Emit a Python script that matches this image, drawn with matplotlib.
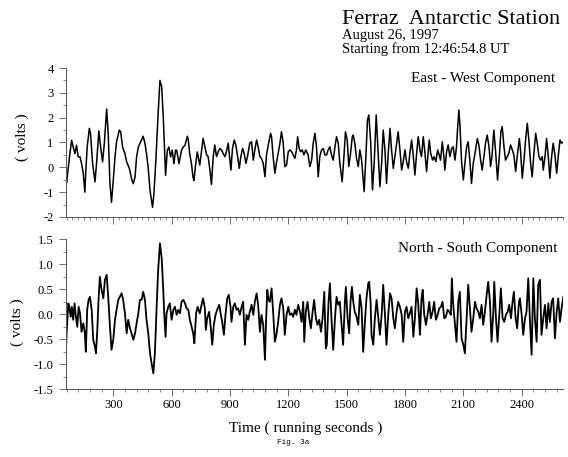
import matplotlib
matplotlib.use("Agg")
import matplotlib.pyplot as plt
from matplotlib.ticker import MultipleLocator, FormatStrFormatter

# East - West component (seconds, volts)
ew_time = [57, 60, 77, 86, 94, 103, 111, 120, 129, 137, 146, 154, 159, 166, 177, 183, 194, 206, 214, 226,
           235, 245, 254, 266, 274, 283, 291, 300, 309, 317, 331, 338, 348, 360, 369, 383, 394, 403, 412, 420,
           429, 441, 454, 463, 471, 480, 489, 502, 509, 519, 530, 540, 549, 557, 566, 569, 578, 586, 595, 603,
           612, 620, 626, 638, 651, 660, 669, 681, 686, 693, 702, 710, 715, 724, 732,
           745, 762, 771, 780, 788, 797, 805, 814, 822, 831, 840, 848, 857, 865, 874, 882, 891, 900, 905, 913,
           922, 930, 937, 948, 956, 965, 973, 982, 990, 1002, 1011, 1020, 1028, 1037, 1045, 1054, 1062, 1071,
           1080, 1088, 1097, 1109, 1114, 1122, 1131, 1140, 1148, 1157, 1165, 1174, 1182, 1191, 1200, 1208, 1217,
           1225, 1234, 1242, 1248, 1256, 1263, 1272, 1280, 1290, 1302, 1311, 1320, 1328, 1337, 1345, 1354, 1362,
           1371, 1380, 1388, 1397, 1405, 1414, 1422, 1431, 1440, 1448, 1457, 1465, 1477, 1486, 1494, 1503, 1511,
           1520, 1529, 1534, 1542, 1551, 1560, 1568, 1577, 1585, 1590, 1599, 1607, 1614, 1623, 1633, 1642, 1652,
           1663, 1671, 1680, 1688, 1697, 1705, 1714, 1723, 1731, 1740, 1748, 1757, 1765, 1774, 1783, 1791, 1800,
           1808, 1817, 1825, 1834, 1843, 1851, 1860, 1868, 1877, 1885, 1894, 1902, 1911, 1920, 1925, 1932, 1942,
           1950, 1959, 1968, 1976, 1983, 1992, 2000, 2005, 2014, 2022, 2031, 2040, 2048, 2057, 2065, 2070, 2077,
           2083, 2091, 2100, 2108, 2117, 2125, 2134, 2142, 2151, 2160, 2172, 2180, 2189, 2197, 2206, 2214, 2223,
           2232, 2240, 2247, 2257, 2266, 2276, 2285, 2293, 2300, 2309, 2317, 2326, 2334, 2343, 2352, 2360, 2369,
           2377, 2388, 2394, 2403, 2412, 2420, 2429, 2437, 2446, 2454, 2463, 2472, 2480, 2489, 2497, 2506, 2511,
           2520, 2528, 2537, 2545, 2554, 2562, 2571, 2580, 2588, 2597, 2605, 2614]
ew_volts = [-0.39, -0.62, 0.55, 1.09, 0.82, 0.55, 0.89, 0.42, 0.42, 0.15, -0.26, -1.0, -0.12, 0.82, 1.57, 1.36, 0.15, -0.59, 0.15, 1.47,
            0.82, 0.22, 0.96, 2.35, 1.36, -0.66, -1.41, -0.53, 0.42, 1.03, 1.50, 1.43, 0.82, 0.55, 0.22, -0.05, -0.46, -0.66, -0.39, 0.42,
            0.82, 1.03, 1.25, 0.96, 0.55, -0.05, -0.93, -1.61, -1.07, 0.28, 2.04, 3.50, 3.25, 2.04, 0.28, -0.32, 0.69, 0.82, 0.42, 0.69,
            0.15, 0.69, 0.69, 0.15, 0.69, 0.82, 0.89, 1.25, 1.09, 0.55, 0.15, -0.39, -0.53, 0.15, 0.62,
            0.09, 1.17, 0.83, 0.50, 0.43, -0.11, -0.69, 0.43, 0.90, 0.43, 0.63, 0.76, 0.70, 0.56, 0.43, 0.63, 0.97, 0.29, -0.11, 0.76,
            1.10, 0.90, 0.56, -0.04, 0.43, 0.76, 0.56, 0.16, 0.43, 0.97, 1.03, 0.29, 0.70, 1.10, 0.83, 0.43, 0.36, 0.16,
            -0.38, 0.50, 0.90, 1.37, 1.23, 0.43, -0.24, 0.23, 0.56, 0.97, 1.43, 0.97, 0.03, 0.09, 0.63, 0.70, 0.63,
            0.50, 0.36, 0.70, 1.23, 0.76, 0.63, 0.70, 0.50, 0.70, 0.50, 0.03, 0.29, 0.97, 1.37, 0.83, -0.38, 0.43,
            0.70, 0.76, 0.50, 0.50, 0.70, 0.83, 0.50, 0.29, 0.83, 1.23, 0.97, 0.16, -0.58, 0.43, 1.43, 1.10, 0.03,
            0.56, 1.23, 1.30, 0.97, 0.36, 0.03, 0.70, 0.29, -0.51, -0.98, 0.43, 1.90, 2.11, 1.10, -0.91, 0.22, 2.11,
            0.43, -0.78, 0.16, 1.50, 0.70, -0.65, 0.56, 1.57, 0.70, -0.04, 0.43, 0.97, 1.43, 0.70, -0.11, 0.23, 0.70,
            0.23, -0.04, 0.56, 1.10, 0.43, -0.31, 0.56, 1.23, 0.70, 0.43, 1.23, 0.63, -0.17, 0.70, 1.10, 0.56, 0.29,
            0.43, 0.23, 0.70, 0.50, 0.29, 1.03, 0.43, -0.11, 0.63, 0.90, 0.43, 0.76, 0.83, 0.29, 0.83, 1.50, 2.31,
            1.64, 0.23, -0.51, 0.16, 0.83, 1.03, 0.23, -0.65, 0.16, 0.56, 1.16, 0.90, 0.29, -0.11, 0.43, 0.97, 1.30,
            0.83, 0.03, 0.43, 1.50, 0.63, -0.51, 0.43, 1.43, 1.64, 0.83, 0.29, 0.43, 0.56, 0.90, 0.70, 0.50, -0.17,
            0.43, 1.16, 0.70, -0.44, 0.29, 1.10, 1.77, 1.10, 0.16, -0.38, 0.56, 1.37, 0.97, 0.43, 0.29, 0.43, -0.11,
            0.43, 1.16, 0.43, -0.44, 0.43, 0.97, 0.50, -0.24, 0.43, 1.10, 0.97, 1.03]

# North - South component
ns_time = [57, 60, 69, 74, 81, 87, 94, 101, 108, 115, 122, 129, 137, 146, 154, 159, 166, 173, 180, 189,
           197, 206, 211, 218, 225, 231, 240, 249, 257, 266, 274, 283, 291, 300, 309, 317, 326, 334, 343, 351,
           360, 369, 377, 386, 394, 403, 412, 420, 429, 437, 446, 454, 463, 471, 480, 489, 497, 506, 514, 523,
           531, 540, 549, 557, 562, 569, 574, 583, 591, 600, 609, 617, 626, 634, 643, 651, 660, 669, 677, 686,
           694, 703, 711, 717, 726, 734,
           745, 754, 762, 771, 776, 783, 793, 800, 809, 817, 826, 834, 845, 852, 860, 869, 877, 886, 894, 903,
           908, 917, 925, 934, 942, 951, 960, 968, 977, 985, 994, 1002, 1011, 1020, 1028, 1037, 1045, 1054, 1062,
           1071, 1080, 1085, 1092, 1098, 1105, 1114, 1122, 1131, 1140, 1148, 1157, 1165, 1174, 1182, 1191, 1200,
           1208, 1217, 1225, 1234, 1242, 1251, 1260, 1268, 1277, 1282, 1290, 1299, 1308, 1316, 1325, 1333, 1342,
           1350, 1359, 1368, 1376, 1385, 1393, 1398, 1407, 1414, 1422, 1431, 1440, 1448, 1457, 1465, 1474, 1482,
           1491, 1496, 1505, 1513, 1520, 1527, 1534, 1542, 1551, 1560, 1568, 1577, 1585, 1594, 1602, 1611, 1616,
           1623, 1628, 1637, 1645, 1654, 1663, 1671, 1680, 1688, 1697, 1705, 1714, 1723, 1731, 1740, 1748, 1757,
           1765, 1774, 1783, 1791, 1800, 1808, 1817, 1825, 1834, 1843, 1851, 1860, 1868, 1877, 1885, 1891, 1899,
           1908, 1916, 1925, 1933, 1942, 1950, 1959, 1968, 1976, 1985, 1993, 2002, 2010, 2019, 2028, 2036, 2041,
           2048, 2057, 2065, 2074, 2082, 2091, 2100, 2108, 2117, 2125, 2134, 2142, 2151, 2160, 2168, 2177, 2185,
           2194, 2202, 2211, 2220, 2228, 2237, 2245, 2254, 2259, 2268, 2276, 2285, 2293, 2302, 2310, 2319, 2328,
           2336, 2345, 2353, 2360, 2369, 2377, 2386, 2391, 2400, 2408, 2417, 2425, 2434, 2442, 2451, 2460, 2468,
           2477, 2485, 2494, 2502, 2511, 2520, 2528, 2537, 2545, 2554, 2562, 2571, 2580, 2588, 2597, 2605, 2614]
ns_volts = [-0.71, -0.38, 0.22, 0.15, -0.05, 0.15, -0.11, 0.22, -0.05, -0.25, 0.15, 0.02, -0.35, -0.18, -0.38, -0.75, 0.09, 0.29, 0.35, 0.09,
            -0.51, -0.65, -0.78, -0.31, 0.35, 0.75, 0.49, 0.32, 0.69, 0.79, 0.35, -0.25, -0.71, -0.51, -0.11, 0.09, 0.29, 0.35, 0.42, 0.29,
            0.02, -0.38, -0.11, -0.28, -0.38, -0.51, -0.38, -0.18, 0.02, 0.29, 0.29, 0.45, 0.29, -0.11, -0.38, -0.78, -0.98, -1.18, -0.78, 0.15,
            0.89, 1.42, 1.12, 0.49, 0.02, -0.45, 0.02, 0.15, 0.22, -0.11, 0.09, 0.15, -0.01, 0.09, 0.02, 0.25, 0.29, 0.22, 0.12, 0.09,
            -0.11, -0.25, -0.38, -0.58, 0.02, 0.15,
            0.02, 0.19, 0.32, 0.12, -0.31, -0.08, 0.05, -0.21, -0.61, -0.21, -0.01, 0.09, 0.19, 0.02, -0.15, -0.41, -0.01, 0.32, 0.39, 0.15,
            -0.15, 0.15, 0.22, 0.09, 0.12, -0.01, 0.15, 0.25, -0.61, -0.01, -0.11, 0.05, 0.19, -0.01, 0.25, 0.42, 0.19, -0.35, -0.01,
            -0.21, -0.91, -0.21, 0.49, 0.29, 0.25, 0.52, 0.05, -0.55, -0.38, -0.15, 0.19, 0.32, 0.12, -0.41, -0.01, 0.15,
            -0.01, 0.02, -0.05, 0.09, -0.01, 0.19, 0.05, -0.15, 0.25, -0.55, 0.05, 0.25, -0.08, -0.28, 0.05, 0.29, -0.08,
            -0.21, -0.11, -0.35, -0.08, 0.45, -0.68, -0.61, 0.25, 0.62, -0.08, -0.71, -0.08, 0.35, 0.19, 0.25, -0.21, -0.61,
            0.25, 0.55, -0.08, -0.38, 0.25, 0.55, 0.25, 0.05, -0.05, -0.21, 0.39, 0.12, -0.75, -0.15, 0.32, 0.62, 0.65,
            0.25, -0.41, -0.61, -0.08, 0.29, -0.08, -0.41, -0.01, 0.59, -0.01, -0.61, -0.01, 0.42, 0.32, -0.08, -0.28, 0.05,
            0.25, 0.15, -0.01, -0.55, 0.05, 0.15, -0.08, 0.02, 0.15, -0.45, -0.08, 0.52, 0.22, -0.41, 0.32, 0.49, -0.01,
            -0.21, -0.01, 0.25, -0.08, 0.05, 0.25, -0.11, -0.01, 0.12, 0.15, 0.25, -0.08, -0.05, 0.09, 0.05, -0.01, 0.72,
            0.19, -0.21, -0.55, 0.25, 0.45, -0.48, -0.61, -0.78, -0.08, 0.59, 0.12, -0.35, -0.08, 0.25, 0.12, 0.05, -0.08,
            0.19, -0.21, 0.05, 0.39, 0.65, 0.25, -0.55, 0.02, 0.65, -0.08, -0.55, -0.01, 0.52, -0.08, -0.15, -0.01, 0.05,
            0.19, -0.08, 0.25, 0.45, -0.08, -0.28, 0.25, 0.32, -0.01, -0.41, -0.08, 0.05, 0.72, -0.08, -0.81, 0.72, -0.08,
            -0.55, 0.59, 0.69, -0.41, -0.08, 0.19, -0.28, 0.22, -0.15, 0.25, 0.32, -0.48, 0.05, 0.32, -0.15, 0.12, 0.35]

plt.rcParams['font.family'] = ['Liberation Serif', 'DejaVu Serif']
plt.rcParams['axes.unicode_minus'] = False

fig = plt.figure(figsize=(5.68, 4.57), dpi=100)
ax1 = fig.add_axes([0.1162, 0.5252, 0.8755, 0.326])
ax2 = fig.add_axes([0.1162, 0.1481, 0.8755, 0.3282])

ax1.plot(ew_time, ew_volts, color='black', lw=1.1)
ax2.plot(ns_time, ns_volts, color='black', lw=1.3)

for ax in (ax1, ax2):
    ax.set_xlim(57, 2614)
    ax.spines['top'].set_visible(False)
    ax.spines['right'].set_visible(False)
    ax.spines['left'].set_color('#555555')
    ax.spines['bottom'].set_color('#555555')
    ax.spines['left'].set_linewidth(0.7)
    ax.spines['bottom'].set_linewidth(0.7)
    ax.xaxis.set_major_locator(MultipleLocator(300))
    ax.tick_params(which='major', direction='out', length=5, width=0.6, color='#555555', labelsize=9)
    ax.tick_params(which='minor', direction='out', length=2.5, width=0.5, color='#555555')
    ax.tick_params(axis='y', pad=4)
    ax.tick_params(axis='x', pad=2)

ax1.set_ylim(-2, 4)
ax1.yaxis.set_major_locator(MultipleLocator(1))
ax1.yaxis.set_minor_locator(MultipleLocator(0.5))
ax1.xaxis.set_minor_locator(MultipleLocator(30))
ax1.tick_params(axis='x', labelbottom=False)

ax2.set_ylim(-1.5, 1.5)
ax2.yaxis.set_major_locator(MultipleLocator(0.5))
ax2.yaxis.set_minor_locator(MultipleLocator(0.25))
ax2.yaxis.set_major_formatter(FormatStrFormatter('%.1f'))
ax2.xaxis.set_minor_locator(MultipleLocator(60))

fig.text(22 / 568, 1 - 137 / 457, '( volts )', rotation=90, ha='center', va='center', fontsize=11)
fig.text(17 / 568, 1 - 322 / 457, '( volts )', rotation=90, ha='center', va='center', fontsize=11)

fig.text(341.7 / 568, 1 - 24 / 457, 'Ferraz  Antarctic Station', fontsize=16, ha='left', va='baseline')
fig.text(341.7 / 568, 1 - 39.3 / 457, 'August 26, 1997', fontsize=10.5, ha='left', va='baseline')
fig.text(341.7 / 568, 1 - 53.3 / 457, 'Starting from 12:46:54.8 UT', fontsize=10.5, ha='left', va='baseline')
fig.text(555 / 568, 1 - 81.7 / 457, 'East - West Component', fontsize=11, ha='right', va='baseline')
fig.text(557 / 568, 1 - 252.3 / 457, 'North - South Component', fontsize=11, ha='right', va='baseline')

fig.text(305.5 / 568, 1 - 432 / 457, 'Time ( running seconds )', fontsize=11, ha='center', va='baseline')
fig.text(293.5 / 568, 1 - 443.5 / 457, 'Fig. 3a', fontsize=5.5, family='Liberation Mono', ha='center', va='baseline')

fig.savefig('out.png', dpi=100)
